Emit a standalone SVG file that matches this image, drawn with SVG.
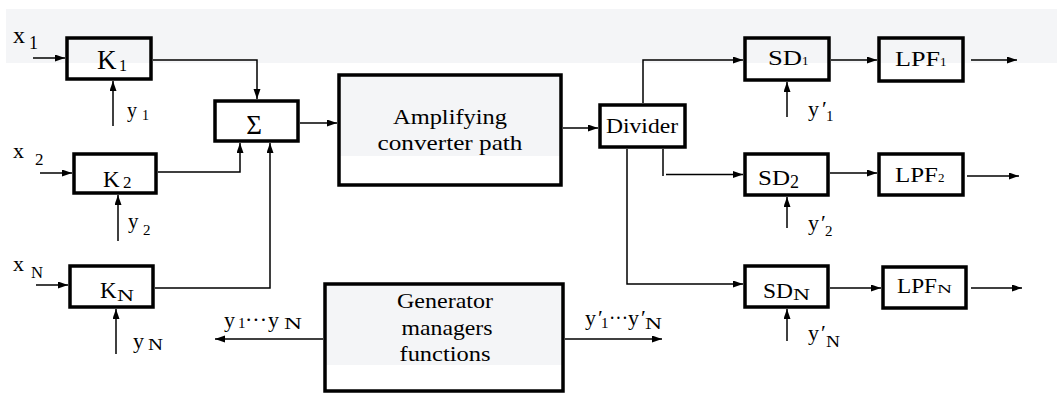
<svg xmlns="http://www.w3.org/2000/svg" width="1057" height="395" viewBox="0 0 1057 395" font-family="'Liberation Serif', serif">
<style>
.box{fill:none;stroke:#000;stroke-width:3.5}
.c{fill:none;stroke:#000;stroke-width:1.5}
.a{marker-end:url(#ah)}
.t{font-family:'Liberation Serif',serif;fill:#000}
.m{text-anchor:middle}
</style>
<defs>
<marker id="ah" markerUnits="userSpaceOnUse" markerWidth="10" markerHeight="8" refX="10" refY="3.5" orient="auto">
<path d="M0,0 L10,3.5 L0,7 z" fill="#000"/>
</marker>
</defs>
<rect x="6" y="9" width="1051" height="54" fill="#f4f5f7"/>

<g id="connectors">
<path class="c a" d="M33 58 H65"/>
<path class="c a" d="M40 173 H72"/>
<path class="c a" d="M36 285 H68"/>
<path class="c a" d="M113 126 V81"/>
<path class="c a" d="M118 241 V195"/>
<path class="c a" d="M116 354 V309"/>
<path class="c a" d="M153 60 H257 V99"/>
<path class="c a" d="M158 172 H240 V143"/>
<path class="c a" d="M155 288 H270 V143"/>
<path class="c a" d="M300 123 H337"/>
<path class="c a" d="M563 128 H598"/>
<path class="c a" d="M643 103 V60 H743"/>
<path class="c" d="M663 149 V176"/>
<path class="c a" d="M666 174.5 H743"/>
<path class="c a" d="M627 149 V284 H743"/>
<path class="c a" d="M831 60 H877"/>
<path class="c a" d="M971 60 H1017"/>
<path class="c a" d="M830 173 H877"/>
<path class="c a" d="M967 176 H1019"/>
<path class="c a" d="M830 288 H881"/>
<path class="c a" d="M971 288 H1022"/>
<path class="c a" d="M787 117 V82"/>
<path class="c a" d="M787 228 V197"/>
<path class="c a" d="M787 341 V309"/>
<path class="c a" d="M323 339 H215"/>
<path class="c a" d="M565 339 H662"/>
</g>

<g id="inputs">
<text class="t" x="13" y="43" font-size="24">x<tspan x="29" y="49" font-size="18">1</tspan></text>
<text class="t" x="13" y="158" font-size="22">x<tspan x="35" y="165" font-size="17">2</tspan></text>
<text class="t" x="13" y="271" font-size="22">x<tspan x="31" y="278" font-size="17" textLength="12" lengthAdjust="spacingAndGlyphs">N</tspan></text>
<text class="t" x="127" y="117" font-size="20">y<tspan x="142" y="120" font-size="14">1</tspan></text>
<text class="t" x="128" y="228" font-size="21">y<tspan x="143" y="235" font-size="15">2</tspan></text>
<text class="t" x="133" y="348" font-size="22">y<tspan x="148" y="350" font-size="17" textLength="15" lengthAdjust="spacingAndGlyphs">N</tspan></text>
</g>

<g id="K1">
<rect class="box" x="67" y="38" width="84" height="41"/>
<text class="t" x="97" y="69" font-size="27">K<tspan x="119" y="71" font-size="16">1</tspan></text>
</g>
<g id="K2">
<rect class="box" x="74" y="154" width="82" height="39"/>
<text class="t" x="103" y="187" font-size="23">K<tspan x="123" y="188" font-size="17">2</tspan></text>
</g>
<g id="KN">
<rect class="box" x="70" y="266" width="83" height="41"/>
<text class="t" x="100" y="298" font-size="23">K<tspan x="117" y="301" font-size="17" textLength="17" lengthAdjust="spacingAndGlyphs">N</tspan></text>
</g>
<g id="sum">
<rect class="box" x="215" y="101" width="83" height="40"/>
<text class="t m" x="254" y="134" font-size="27">Σ</text>
</g>
<g id="amp">
<rect x="339" y="75" width="222" height="81" fill="#f4f5f7"/>
<rect class="box" x="339" y="75" width="222" height="110"/>
<text class="t m" x="450" y="124" font-size="21" textLength="114" lengthAdjust="spacingAndGlyphs">Amplifying</text>
<text class="t m" x="450" y="150" font-size="21" textLength="145" lengthAdjust="spacingAndGlyphs">converter path</text>
</g>
<g id="divider">
<rect class="box" x="600" y="105" width="85" height="42"/>
<text class="t" x="606" y="133" font-size="21" textLength="72" lengthAdjust="spacingAndGlyphs">Divider</text>
</g>
<g id="SD1">
<rect class="box" x="745" y="38" width="84" height="42"/>
<text class="t" x="768" y="65" font-size="20"><tspan textLength="34" lengthAdjust="spacingAndGlyphs">SD</tspan><tspan x="802" font-size="13">1</tspan></text>
</g>
<g id="LPF1">
<rect class="box" x="879" y="38" width="84" height="43"/>
<text class="t" x="895" y="66" font-size="20"><tspan textLength="45" lengthAdjust="spacingAndGlyphs">LPF</tspan><tspan x="940" font-size="13">1</tspan></text>
</g>
<g id="SD2">
<rect class="box" x="745" y="154" width="83" height="41"/>
<text class="t" x="758" y="185" font-size="21"><tspan textLength="32" lengthAdjust="spacingAndGlyphs">SD</tspan><tspan x="790" y="188" font-size="18">2</tspan></text>
</g>
<g id="LPF2">
<rect class="box" x="879" y="154" width="84" height="41"/>
<text class="t" x="895" y="182" font-size="20"><tspan textLength="43" lengthAdjust="spacingAndGlyphs">LPF</tspan><tspan x="938" font-size="13">2</tspan></text>
</g>
<g id="SDN">
<rect class="box" x="745" y="266" width="83" height="41"/>
<text class="t" x="763" y="298" font-size="21"><tspan textLength="30" lengthAdjust="spacingAndGlyphs">SD</tspan><tspan x="793" y="300" font-size="17" textLength="17" lengthAdjust="spacingAndGlyphs">N</tspan></text>
</g>
<g id="LPFN">
<rect class="box" x="883" y="267" width="83" height="41"/>
<text class="t" x="897" y="293" font-size="21"><tspan textLength="40" lengthAdjust="spacingAndGlyphs">LPF</tspan><tspan x="937" font-size="13" textLength="15" lengthAdjust="spacingAndGlyphs">N</tspan></text>
</g>
<g id="sd-controls">
<text class="t" x="808" y="116" font-size="22">y<tspan x="822" y="116">′</tspan><tspan x="826" y="121" font-size="15">1</tspan></text>
<text class="t" x="808" y="230" font-size="22">y<tspan x="821" y="230">′</tspan><tspan x="825" y="236" font-size="15">2</tspan></text>
<text class="t" x="808" y="340" font-size="22">y<tspan x="821" y="340">′</tspan><tspan x="826" y="347" font-size="16" textLength="14" lengthAdjust="spacingAndGlyphs">N</tspan></text>
</g>
<g id="generator">
<rect x="325" y="284" width="238" height="81" fill="#f4f5f7"/>
<rect class="box" x="325" y="284" width="238" height="107"/>
<text class="t m" x="445" y="308" font-size="21" textLength="96" lengthAdjust="spacingAndGlyphs">Generator</text>
<text class="t m" x="447" y="335" font-size="21" textLength="91" lengthAdjust="spacingAndGlyphs">managers</text>
<text class="t m" x="445" y="361" font-size="21" textLength="91" lengthAdjust="spacingAndGlyphs">functions</text>
<text class="t" x="224" y="327" font-size="22">y<tspan x="238" y="328" font-size="15">1</tspan><tspan x="245" y="327" font-size="20" textLength="22" lengthAdjust="spacingAndGlyphs">···</tspan><tspan x="268" y="327">y</tspan><tspan x="284" y="329" font-size="17" textLength="18" lengthAdjust="spacingAndGlyphs">N</tspan></text>
<text class="t" x="585" y="325" font-size="22">y<tspan x="598" y="325">′</tspan><tspan x="601" y="328" font-size="15">1</tspan><tspan x="609" y="325" font-size="20" textLength="19" lengthAdjust="spacingAndGlyphs">···</tspan><tspan x="628" y="325">y</tspan><tspan x="641" y="325">′</tspan><tspan x="645" y="329" font-size="17" textLength="17" lengthAdjust="spacingAndGlyphs">N</tspan></text>
</g>
</svg>
